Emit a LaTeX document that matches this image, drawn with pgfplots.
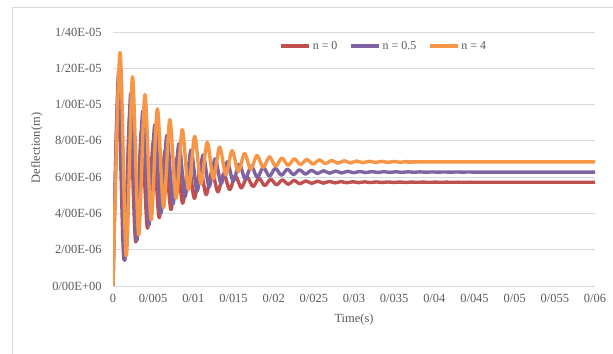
\documentclass[border=0pt]{standalone}
\usepackage{pgfplots}
\pgfplotsset{compat=1.18}
\usepackage{fontspec}
\setmainfont{Liberation Serif}
\definecolor{cred}{HTML}{C0504D}
\definecolor{cpurple}{HTML}{8064A2}
\definecolor{corange}{HTML}{F79646}
\definecolor{ctext}{HTML}{595959}
\definecolor{cgrid}{HTML}{D9D9D9}
\begin{document}
\begin{tikzpicture}
\path[use as bounding box] (0,0) rectangle (613bp,354bp);
\draw[cgrid, line width=0.8pt] (12bp,-5bp) -- (12bp,347bp) -- (620bp,347bp);
\begin{axis}[
  at={(113bp,68bp)}, anchor=south west,
  scale only axis, width=482bp, height=254bp,
  xmin=0, xmax=0.06, ymin=0, ymax=14,
  scaled x ticks=false, scaled y ticks=false,
  axis line style={draw=none},
  major tick length=0pt,
  ymajorgrids, grid style={cgrid, line width=0.8pt},
  xtick={0,0.005,0.01,0.015,0.02,0.025,0.03,0.035,0.04,0.045,0.05,0.055,0.06},
  xticklabels={0,0/005,0/01,0/015,0/02,0/025,0/03,0/035,0/04,0/045,0/05,0/055,0/06},
  ytick={0,2,4,6,8,10,12,14},
  yticklabels={0/00E+00,2/00E-06,4/00E-06,6/00E-06,8/00E-06,1/00E-05,1/20E-05,1/40E-05},
  tick label style={font=\fontsize{12.5}{14}\selectfont, text=ctext},
  yticklabel style={xshift=-8bp},
  xticklabel style={yshift=-5bp},
  xlabel={Time(s)}, ylabel={Deflection(m)},
  label style={font=\fontsize{12.5}{14}\selectfont, text=ctext},
  xlabel style={at={(axis description cs:0.5,-0.13)}, anchor=center},
  ylabel style={at={(axis description cs:-0.158,0.543)}, anchor=center},
  legend columns=3,
  legend style={draw=none, fill=none, at={(0.562,0.945)}, anchor=center,
    font=\fontsize{12}{14}\selectfont, text=ctext,
    /tikz/every even column/.append style={column sep=10bp}},
  legend image code/.code={\draw[#1, line width=3.2pt] (0bp,0bp) -- (28bp,0bp);},
  every axis plot/.append style={line width=3.4pt, smooth, no markers, line join=round},
]
\addplot[cred] coordinates {
(0,0)
(0.00064,10.62) (0.00137,1.442)
(0.00210,9.493) (0.00283,2.426)
(0.00356,8.625) (0.00429,3.184)
(0.00502,7.957) (0.00575,3.767)
(0.00648,7.443) (0.00721,4.216)
(0.00794,7.046) (0.00867,4.562)
(0.00940,6.741) (0.01013,4.829)
(0.01086,6.506) (0.01159,5.034)
(0.01232,6.326) (0.01305,5.191)
(0.01378,6.186) (0.01451,5.313)
(0.01524,6.079) (0.01597,5.407)
(0.01670,5.996) (0.01743,5.479)
(0.01816,5.933) (0.01889,5.534)
(0.01962,5.884) (0.02035,5.577)
(0.02108,5.846) (0.02181,5.610)
(0.02254,5.817) (0.02327,5.635)
(0.02400,5.795) (0.02473,5.655)
(0.02546,5.778) (0.02619,5.669)
(0.02692,5.764) (0.02765,5.682)
(0.02838,5.754) (0.02911,5.690)
(0.02984,5.746) (0.03057,5.697)
(0.03130,5.740) (0.03203,5.703)
(0.03276,5.736) (0.03349,5.706)
(0.03422,5.732) (0.03495,5.710)
(0.03568,5.729) (0.03641,5.712)
(0.03714,5.727) (0.03787,5.714)
(0.03860,5.726) (0.03933,5.715)
(0.04006,5.724) (0.04079,5.717)
(0.04152,5.723) (0.04225,5.717)
(0.04298,5.722) (0.04371,5.718)
(0.04444,5.722) (0.0460,5.72) (0.0600,5.72)
};
\addlegendentry{n = 0}
\addplot[cpurple] coordinates {
(0,0)
(0.00071,11.88) (0.00146,1.408)
(0.00221,10.62) (0.00296,2.504)
(0.00371,9.644) (0.00446,3.353)
(0.00521,8.887) (0.00596,4.012)
(0.00671,8.300) (0.00746,4.523)
(0.00821,7.846) (0.00896,4.918)
(0.00971,7.494) (0.01046,5.224)
(0.01121,7.221) (0.01196,5.461)
(0.01271,7.009) (0.01346,5.646)
(0.01421,6.845) (0.01496,5.788)
(0.01571,6.718) (0.01646,5.899)
(0.01721,6.619) (0.01796,5.985)
(0.01871,6.543) (0.01946,6.051)
(0.02021,6.484) (0.02096,6.103)
(0.02171,6.438) (0.02246,6.143)
(0.02321,6.402) (0.02396,6.174)
(0.02471,6.375) (0.02546,6.197)
(0.02621,6.354) (0.02696,6.216)
(0.02771,6.337) (0.02846,6.230)
(0.02921,6.324) (0.02996,6.242)
(0.03071,6.314) (0.03146,6.250)
(0.03221,6.307) (0.03296,6.257)
(0.03371,6.301) (0.03446,6.262)
(0.03521,6.296) (0.03596,6.266)
(0.03671,6.292) (0.03746,6.270)
(0.03821,6.289) (0.03896,6.272)
(0.03971,6.287) (0.04046,6.274)
(0.04121,6.286) (0.04196,6.275)
(0.04271,6.284) (0.04346,6.277)
(0.04421,6.283) (0.04496,6.278)
(0.0460,6.28) (0.0600,6.28)
};
\addlegendentry{n = 0.5}
\addplot[corange] coordinates {
(0,0)
(0.00087,12.86) (0.001645,1.66)
(0.00242,11.53) (0.003195,2.81)
(0.00397,10.55) (0.004745,3.65)
(0.00552,9.76) (0.006295,4.33)
(0.00707,9.17) (0.007845,4.84)
(0.00862,8.62) (0.009395,5.31)
(0.01017,8.25) (0.010945,5.63)
(0.01172,7.92) (0.012495,5.91)
(0.01327,7.66) (0.014045,6.135)
(0.01482,7.46) (0.015595,6.307)
(0.01637,7.30) (0.017145,6.444)
(0.01792,7.20) (0.018695,6.53)
(0.01947,7.12) (0.020245,6.599)
(0.02102,7.06) (0.021795,6.651)
(0.02257,7.01) (0.023345,6.694)
(0.02412,6.975) (0.024895,6.724)
(0.02567,6.945) (0.026445,6.75)
(0.02722,6.922) (0.027995,6.769)
(0.02877,6.904) (0.029545,6.785)
(0.03032,6.89) (0.031095,6.797)
(0.03187,6.879) (0.032645,6.806)
(0.03342,6.87) (0.034195,6.814)
(0.03497,6.864) (0.035745,6.819)
(0.03652,6.858) (0.037295,6.825)
(0.0381,6.84) (0.0600,6.84)
};
\addlegendentry{n = 4}
\end{axis}
\end{tikzpicture}
\end{document}
